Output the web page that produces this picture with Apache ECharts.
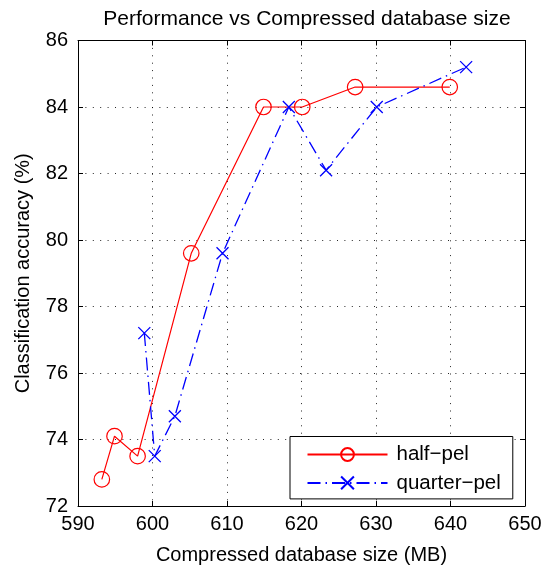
<!DOCTYPE html>
<html>
<head>
<meta charset="utf-8">
<script src="https://cdn.jsdelivr.net/npm/echarts@6/dist/echarts.min.js"></script>
<style>
html,body{margin:0;padding:0;background:#fff;}
#chart{width:550px;height:570px;}
</style>
</head>
<body>
<div id="chart"></div>
<script>
// Data
const halfPelX = [593.2, 594.9, 598.0, 605.2, 614.9, 620.1, 627.2, 639.9];
const halfPelY = [72.8, 74.1, 73.5, 79.6, 84.0, 84.0, 84.6, 84.6];
const quarterPelX = [598.9, 600.3, 603.0, 609.4, 618.3, 623.3, 630.1, 642.1];
const quarterPelY = [77.2, 73.5, 74.7, 79.6, 84.0, 82.1, 84.0, 85.2];
const seriesNames = ['half\u2212pel', 'quarter\u2212pel'];
const titleText = 'Performance vs Compressed database size';
const xName = 'Compressed database size (MB)';
const yName = 'Classification accuracy (%)';

const FONT = '"Liberation Sans", Arial, Helvetica, sans-serif';
const zip = (xs, ys) => xs.map((x, i) => [x, ys[i]]);

const chart = echarts.init(document.getElementById('chart'), null, {renderer: 'canvas'});
const dotted = {show: true, lineStyle: {color: '#000', width: 1, type: [1, 6.4], opacity: 0.85}};
const tickIn = {show: true, inside: true, length: 5, lineStyle: {color: '#000', width: 1}};
const axisLine = {show: true, onZero: false, lineStyle: {color: '#000', width: 1}};

chart.setOption({
  animation: false,
  backgroundColor: '#fff',
  title: {
    text: titleText,
    left: 302, textAlign: 'center', top: 4,
    textStyle: {fontFamily: FONT, fontSize: 21, fontWeight: 'normal', color: '#000'}
  },
  grid: {left: 78, right: 25, top: 40.5, bottom: 59.7, containLabel: false},
  legend: {
    orient: 'vertical',
    left: 290, top: 436.5,
    padding: [7.5, 12, 5.5, 16.5],
    itemGap: 7.4,
    itemWidth: 80, itemHeight: 16,
    backgroundColor: '#fff',
    borderColor: '#000', borderWidth: 1,
    textStyle: {fontFamily: FONT, fontSize: 20.5, lineHeight: 20, color: '#000', padding: [0, 0, 0, 4]},
    data: seriesNames
  },
  xAxis: [{
    type: 'value', min: 590, max: 650, interval: 10, position: 'bottom',
    name: xName, nameLocation: 'middle', nameGap: 39,
    nameTextStyle: {fontFamily: FONT, fontSize: 20, color: '#000'},
    axisLine: axisLine, axisTick: tickIn, splitLine: dotted,
    axisLabel: {fontFamily: FONT, fontSize: 20, color: '#000', margin: 8}
  }, {
    type: 'value', min: 590, max: 650, interval: 10, position: 'top',
    axisLine: axisLine, axisTick: tickIn, splitLine: {show: false},
    axisLabel: {show: false}
  }],
  yAxis: [{
    type: 'value', min: 72, max: 86, interval: 2, position: 'left',
    name: yName, nameLocation: 'middle', nameGap: 45,
    nameTextStyle: {fontFamily: FONT, fontSize: 20, color: '#000'},
    axisLine: axisLine, axisTick: tickIn, splitLine: dotted,
    axisLabel: {fontFamily: FONT, fontSize: 20, color: '#000', margin: 10}
  }, {
    type: 'value', min: 72, max: 86, interval: 2, position: 'right',
    axisLine: axisLine, axisTick: tickIn, splitLine: {show: false},
    axisLabel: {show: false}
  }],
  series: [{
    name: seriesNames[0], type: 'line',
    data: zip(halfPelX, halfPelY),
    symbol: 'circle', symbolSize: 15.5,
    itemStyle: {color: 'rgba(0,0,0,0)', borderColor: '#ff0000', borderWidth: 1.2},
    lineStyle: {color: '#ff0000', width: 1.2, type: 'solid'},
    color: '#ff0000'
  }, {
    name: seriesNames[1], type: 'line',
    data: zip(quarterPelX, quarterPelY),
    symbol: 'path://M0,0L10,10M10,0L0,10', symbolSize: 12,
    itemStyle: {color: 'rgba(0,0,0,0)', borderColor: '#0000ff', borderWidth: 1.3},
    lineStyle: {color: '#0000ff', width: 1.3, type: [13, 5, 1.5, 5]},
    color: '#0000ff'
  }]
});
</script>
</body>
</html>
